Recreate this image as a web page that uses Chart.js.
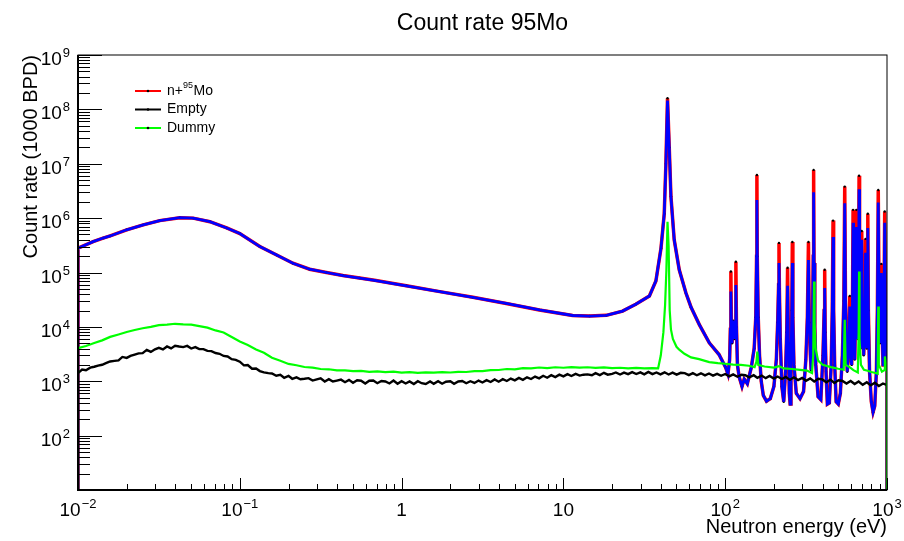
<!DOCTYPE html>
<html>
<head>
<meta charset="utf-8">
<script src="https://cdn.jsdelivr.net/npm/chart.js@4"></script>
<style>
  body { margin: 0; background: #fff; }
  #graph { display: block; }
</style>
</head>
<body>
<canvas id="graph" width="904" height="541"></canvas>
<script>
// n+95Mo sample and the blue curve share one energy grid (eV)
let mo_energy = [
  0.01, 0.01, 0.0124, 0.0143, 0.0158, 0.02, 0.0253, 0.032, 0.0426, 0.0515,
  0.0653, 0.083, 0.1, 0.133, 0.169, 0.213, 0.27, 0.343, 0.434, 0.55,
  0.68, 1.07, 1.72, 2.76, 4.43, 7.1, 11.4, 14.5, 18.4, 23.2,
  28, 34, 37.3, 40.1, 42, 43, 44, 45.1, 46.2, 48.4,
  52, 57.2, 61.5, 69.2, 79.7, 91.6, 100.6, 104, 106.5, 107.6,
  108.4, 109.3, 110.2, 112.2, 114, 115.5, 116.4, 117.4, 119, 122,
  127, 131, 137, 145, 151, 154.5, 156.3, 157, 157.8, 160,
  163, 167, 172, 180, 190, 200, 207, 211, 213.8, 215,
  216.2, 219, 224, 230, 236, 240, 243, 246, 249, 252,
  255, 258, 260, 262, 266, 275, 290, 305, 315, 322,
  327, 331, 336, 340, 346, 350, 352, 354, 358, 363,
  375, 390, 402, 409, 412, 415, 420, 428, 440, 452,
  459, 464, 468, 475, 485, 500, 515, 530, 541, 548,
  554, 568, 582, 589, 596, 605, 612, 617, 622, 632,
  641, 647, 652, 660, 667, 672, 677, 686, 693, 698,
  704, 718, 731, 737, 742, 750, 756, 761, 767, 780,
  800, 820, 840, 860, 872, 883, 893, 903, 912, 922,
  932, 945, 958, 968, 978, 990, 1000, 1000
];

let fit_rate = [
  1, 2.8e5, 3.7e5, 4.3e5, 4.7e5, 6.1e5, 7.5e5, 9.0e5, 1.02e6, 1.0e6,
  8.6e5, 6.6e5, 5.2e5, 3.0e5, 2.1e5, 1.48e5, 1.15e5, 1.0e5, 8.8e4, 7.9e4,
  7.2e4, 5.7e4, 4.45e4, 3.5e4, 2.7e4, 2.05e4, 1.62e4, 1.58e4, 1.63e4, 1.95e4,
  2.6e4, 3.7e4, 7.0e4, 2.8e5, 1.2e6, 1.0e7, 1.45e8, 2.0e7, 2.5e6, 4.0e5,
  1.12e5, 4.2e4, 2.3e4, 1.1e4, 5100, 3100, 1800, 1350, 2500, 9000,
  44600, 9000, 5000, 13000, 6000, 12000, 59000, 10000, 2000, 1200,
  800, 1100, 900, 1800, 4000, 15000, 2.0e5, 2.16e6, 2.0e5, 15000,
  3000, 1000, 550, 430, 480, 800, 2500, 12000, 60000, 1.5e5,
  50000, 6000, 800, 420, 1500, 8000, 57000, 5000, 600, 380,
  2000, 20000, 1.5e5, 15000, 2000, 600, 480, 650, 2500, 15000,
  1.7e5, 12000, 3000, 1600, 8000, 2.0e5, 3.0e6, 1.5e5, 10000, 2000,
  520, 460, 3000, 20000, 52000, 8000, 1500, 380, 400, 2000,
  20000, 4.5e5, 20000, 2000, 420, 380, 600, 3000, 30000, 1.88e6,
  30000, 1500, 5000, 23600, 3000, 2000, 30000, 8.2e5, 20000, 2500,
  25000, 6.9e5, 20000, 6000, 60000, 3.4e6, 50000, 4000, 30000, 4.0e5,
  15000, 3000, 25000, 2.3e5, 15000, 4000, 40000, 6.6e5, 20000, 1500,
  420, 270, 350, 1500, 20000, 1.93e6, 30000, 5000, 15000, 98000,
  8000, 2000, 30000, 8.2e5, 30000, 6000, 3000, 1
];

let mo_rate = [
  1, 2.8e5, 3.7e5, 4.3e5, 4.7e5, 6.1e5, 7.5e5, 9.0e5, 1.02e6, 1.0e6,
  8.6e5, 6.6e5, 5.2e5, 3.0e5, 2.1e5, 1.48e5, 1.15e5, 1.0e5, 8.8e4, 7.9e4,
  7.2e4, 5.7e4, 4.45e4, 3.5e4, 2.7e4, 2.05e4, 1.62e4, 1.58e4, 1.63e4, 1.95e4,
  2.6e4, 3.7e4, 7.0e4, 2.8e5, 1.2e6, 1.0e7, 1.6e8, 2.0e7, 2.5e6, 4.0e5,
  1.12e5, 4.2e4, 2.3e4, 1.1e4, 5100, 3100, 1800, 1350, 2500, 9000,
  1.04e5, 9000, 5000, 13000, 6000, 12000, 1.58e5, 10000, 2000, 1200,
  800, 1100, 900, 1800, 4000, 15000, 2.0e5, 6.2e6, 2.0e5, 15000,
  3000, 1000, 550, 430, 480, 800, 2500, 12000, 60000, 3.5e5,
  50000, 6000, 800, 420, 1500, 8000, 1.22e5, 5000, 600, 380,
  2000, 20000, 3.65e5, 15000, 2000, 600, 480, 650, 2500, 15000,
  3.65e5, 12000, 3000, 1600, 8000, 2.0e5, 7.7e6, 1.5e5, 10000, 2000,
  520, 460, 3000, 20000, 1.12e5, 8000, 1500, 380, 400, 2000,
  20000, 9.0e5, 20000, 2000, 420, 380, 600, 3000, 30000, 3.8e6,
  30000, 1500, 5000, 3.7e4, 3000, 2000, 30000, 1.42e6, 20000, 2500,
  25000, 1.42e6, 20000, 6000, 60000, 6.0e6, 50000, 4000, 30000, 5.8e5,
  15000, 3000, 25000, 4.15e5, 15000, 4000, 40000, 1.2e6, 20000, 1500,
  420, 270, 350, 1500, 20000, 3.3e6, 30000, 5000, 15000, 1.44e5,
  8000, 2000, 30000, 1.32e6, 30000, 6000, 3000, 1
];

// Empty: 40 bins per decade
let empty_energy = [
  0.01,
  0.01, 0.0106, 0.0112, 0.0119, 0.0126, 0.0133, 0.0141, 0.015, 0.0158, 0.0168, 0.0178, 0.0188, 0.02, 0.0211, 0.0224, 0.0237, 0.0251, 0.0266, 0.0282, 0.0299,
  0.0316, 0.0335, 0.0355, 0.0376, 0.0398, 0.0422, 0.0447, 0.0473, 0.0501, 0.0531, 0.0562, 0.0596, 0.0631, 0.0668, 0.0708, 0.075, 0.0794, 0.0841, 0.0891, 0.0944,
  0.1, 0.106, 0.112, 0.119, 0.126, 0.133, 0.141, 0.15, 0.158, 0.168, 0.178, 0.188, 0.2, 0.211, 0.224, 0.237, 0.251, 0.266, 0.282, 0.299,
  0.316, 0.335, 0.355, 0.376, 0.398, 0.422, 0.447, 0.473, 0.501, 0.531, 0.562, 0.596, 0.631, 0.668, 0.708, 0.75, 0.794, 0.841, 0.891, 0.944,
  1, 1.06, 1.12, 1.19, 1.26, 1.33, 1.41, 1.5, 1.58, 1.68, 1.78, 1.88, 2, 2.11, 2.24, 2.37, 2.51, 2.66, 2.82, 2.99,
  3.16, 3.35, 3.55, 3.76, 3.98, 4.22, 4.47, 4.73, 5.01, 5.31, 5.62, 5.96, 6.31, 6.68, 7.08, 7.5, 7.94, 8.41, 8.91, 9.44,
  10, 10.6, 11.2, 11.9, 12.6, 13.3, 14.1, 15, 15.8, 16.8, 17.8, 18.8, 20, 21.1, 22.4, 23.7, 25.1, 26.6, 28.2, 29.9,
  31.6, 33.5, 35.5, 37.6, 39.8, 42.2, 44.7, 47.3, 50.1, 53.1, 56.2, 59.6, 63.1, 66.8, 70.8, 75, 79.4, 84.1, 89.1, 94.4,
  100, 106, 112, 119, 126, 133, 141, 150, 158, 168, 178, 188, 200, 211, 224, 237, 251, 266, 282, 299,
  316, 335, 355, 376, 398, 422, 447, 473, 501, 531, 562, 596, 631, 668, 708, 750, 794, 841, 891, 944,
  1000, 1000
];
let empty_rate = [
  1,
  1420, 1640, 1590, 1780, 1850, 1940, 2010, 2170, 2310, 2370, 2420, 2800, 2690, 2930, 3100, 3260, 3290, 3770, 3460, 3870,
  4120, 3850, 4370, 4020, 4480, 4350, 4250, 4470, 4000, 4250, 3900, 3900, 3620, 3580, 3300, 3200, 2920, 2860, 2550, 2480,
  2290, 1960, 1990, 1700, 1720, 1540, 1460, 1410, 1390, 1260, 1310, 1160, 1260, 1110, 1180, 1090, 1110, 1140, 1030, 1080,
  1130, 990, 1090, 990, 1030, 1070, 960, 1060, 940, 1040, 1020, 910, 1020, 1030, 920, 1010, 990, 910, 1030, 900,
  1000, 910, 990, 890, 1000, 920, 890, 990, 900, 1000, 900, 980, 1000, 900, 990, 1010, 920, 1000, 930, 1030,
  950, 1050, 970, 1080, 980, 1090, 1010, 1120, 1040, 1150, 1060, 1180, 1100, 1220, 1130, 1260, 1160, 1290, 1190, 1320,
  1230, 1350, 1250, 1370, 1270, 1320, 1340, 1290, 1410, 1300, 1430, 1320, 1370, 1450, 1330, 1440, 1350, 1470, 1360, 1460,
  1340, 1480, 1350, 1450, 1340, 1460, 1330, 1440, 1320, 1430, 1410, 1300, 1410, 1290, 1400, 1280, 1390, 1270, 1370, 1260,
  1360, 1230, 1340, 1210, 1320, 1290, 1180, 1290, 1160, 1270, 1140, 1250, 1120, 1220, 1100, 1200, 1060, 1180, 1050, 1150,
  1020, 1130, 990, 1110, 1080, 960, 1070, 930, 1040, 1010, 910, 1010, 890, 990, 860, 960, 840, 940, 820, 910,
  850, 1
];

// Dummy
let dummy_energy = [
  0.01, 0.01, 0.0112, 0.0126, 0.0141, 0.0158, 0.0178, 0.02, 0.0224, 0.0251, 0.0282, 0.0316, 0.0355, 0.0398, 0.0447, 0.0501, 0.0562, 0.0631, 0.0708, 0.0794, 0.0891,
  0.1, 0.112, 0.126, 0.141, 0.158, 0.178, 0.2, 0.224, 0.251, 0.282, 0.316, 0.355, 0.398, 0.447, 0.501, 0.562, 0.631, 0.708, 0.794, 0.891,
  1, 1.12, 1.26, 1.41, 1.58, 1.78, 2, 2.24, 2.51, 2.82, 3.16, 3.55, 3.98, 4.47, 5.01, 5.62, 6.31, 7.08, 7.94, 8.91,
  10, 11.2, 12.6, 14.1, 15.8, 17.8, 20, 22.4, 25.1, 28.2, 31.6, 35.5,
  38.5, 40, 41.5, 42.5, 43.3, 44, 44.7, 45.4, 46.2, 47.5, 50, 52, 56, 61.5, 69, 79.7, 90,
  100, 112, 125, 140, 152, 156, 158, 160, 175, 200, 215, 230, 260, 290, 320, 344, 350, 354, 357, 362,
  375, 400, 450, 500, 540, 548, 555, 590, 620, 660, 668, 672, 676, 690, 720, 760, 800, 850, 876, 883,
  890, 930, 965, 970, 990, 1000, 1000
];
let dummy_rate = [
  1, 4060, 4450, 5050, 5650, 6550, 7250, 8050, 8750, 9450, 10000, 10800, 11000, 11400, 11100, 11000, 10300, 9700, 8600, 7900, 6500,
  5400, 4650, 3850, 3350, 2700, 2380, 2080, 1970, 1830, 1780, 1680, 1660, 1580, 1590, 1530, 1550, 1490, 1520, 1470, 1500,
  1440, 1470, 1430, 1460, 1440, 1470, 1450, 1490, 1480, 1540, 1530, 1600, 1610, 1680, 1660, 1740, 1720, 1790, 1750, 1810,
  1770, 1820, 1780, 1810, 1760, 1800, 1740, 1770, 1730, 1760, 1720, 1740,
  1730, 3000, 8000, 25000, 1.1e5, 8.6e5, 3.0e5, 20000, 9000, 6000, 4300, 3800, 3200, 2750, 2550, 2250, 2150,
  2100, 2020, 2000, 1930, 1820, 2300, 3500, 2000, 1870, 1780, 1900, 1720, 1680, 1620, 1570, 1420, 3000, 68000, 12000, 4000,
  2400, 2000, 1820, 1700, 1630, 13500, 2000, 1800, 1600, 1450, 8000, 1.04e5, 6000, 2000, 1620, 1560, 1480, 1420, 1380, 23600,
  2000, 1500, 1600, 2850, 2000, 2000, 1
];

let legend_labels = ["n+95Mo", "Empty", "Dummy"];
let x_tick_values = [0.01, 0.1, 1, 10, 100, 1000];
let x_tick_labels = [["10", "\u22122"], ["10", "\u22121"], ["1", ""], ["10", ""], ["10", "2"], ["10", "3"]];
let y_tick_values = [1e2, 1e3, 1e4, 1e5, 1e6, 1e7, 1e8, 1e9];
let y_tick_labels = [["10", "2"], ["10", "3"], ["10", "4"], ["10", "5"], ["10", "6"], ["10", "7"], ["10", "8"], ["10", "9"]];

const FONT = '"Liberation Sans", Arial, Helvetica, sans-serif';

const toPoints = (xs, ys) => xs.map((x, i) => ({ x: x, y: ys[i] }));

const drawPower = (ctx, base, exp, x, y, align) => {
  ctx.font = "19px " + FONT;
  const wb = ctx.measureText(base).width;
  ctx.font = "13px " + FONT;
  const we = exp ? ctx.measureText(exp).width + 1 : 0;
  const total = wb + we;
  const x0 = align === "right" ? x - total : x - total / 2;
  ctx.textAlign = "left";
  ctx.textBaseline = "alphabetic";
  ctx.font = "19px " + FONT;
  ctx.fillText(base, x0, y);
  if (exp) {
    ctx.font = "13px " + FONT;
    ctx.fillText(exp, x0 + wb + 1, y - 8);
  }
};

// ROOT-like frame, inward ticks, labels, titles and legend
const rootFrame = {
  id: "rootFrame",
  afterDraw(chart) {
    const { ctx, chartArea: a } = chart;
    const xs = chart.scales.x;
    const ys = chart.scales.y;
    ctx.save();
    ctx.strokeStyle = "#000";
    ctx.fillStyle = "#000";

    ctx.lineWidth = 1;
    ctx.strokeRect(a.left, a.top, a.right - a.left, a.bottom - a.top);
    ctx.lineWidth = 2;
    ctx.beginPath();
    ctx.moveTo(a.left, a.top);
    ctx.lineTo(a.left, a.bottom);
    ctx.lineTo(a.right, a.bottom);
    ctx.stroke();

    // y ticks
    ctx.lineWidth = 1;
    ctx.beginPath();
    for (let e = 1; e <= 9; e++) {
      for (let k = 1; k <= 9; k++) {
        const v = k * Math.pow(10, e);
        if (v > 1e9 || (e === 1 && k === 1)) continue;
        const py = Math.round(ys.getPixelForValue(v)) + 0.5;
        const len = k === 1 ? 24 : 12;
        ctx.moveTo(a.left, py);
        ctx.lineTo(a.left + len, py);
      }
    }
    // x ticks
    for (let e = -2; e <= 3; e++) {
      for (let k = 1; k <= 9; k++) {
        const v = k * Math.pow(10, e);
        if (v > 1000) continue;
        const px = Math.round(xs.getPixelForValue(v)) + 0.5;
        const len = k === 1 ? 12 : 6;
        ctx.moveTo(px, a.bottom);
        ctx.lineTo(px, a.bottom - len);
      }
    }
    ctx.stroke();

    // tick labels
    y_tick_values.forEach((v, i) => {
      const py = ys.getPixelForValue(v);
      drawPower(ctx, y_tick_labels[i][0], y_tick_labels[i][1], 70, py + 10, "right");
    });
    x_tick_values.forEach((v, i) => {
      const px = xs.getPixelForValue(v);
      drawPower(ctx, x_tick_labels[i][0], x_tick_labels[i][1], px, 516, "center");
    });

    // titles
    ctx.font = "23px " + FONT;
    ctx.textAlign = "center";
    ctx.fillText("Count rate 95Mo", (a.left + a.right) / 2, 30);

    ctx.font = "20px " + FONT;
    ctx.textAlign = "right";
    ctx.fillText("Neutron energy (eV)", a.right, 533);

    ctx.save();
    ctx.translate(37, a.top);
    ctx.rotate(-Math.PI / 2);
    ctx.textAlign = "right";
    ctx.fillText("Count rate (1000 BPD)", 0, 0);
    ctx.restore();

    // legend
    const entries = chart.data.datasets.filter((d) => legend_labels.includes(d.label));
    entries.sort((p, q) => legend_labels.indexOf(p.label) - legend_labels.indexOf(q.label));
    entries.forEach((d, i) => {
      const ly = 91 + i * 18.5;
      ctx.strokeStyle = d.borderColor;
      ctx.lineWidth = 2;
      ctx.beginPath();
      ctx.moveTo(135, ly);
      ctx.lineTo(161, ly);
      ctx.stroke();
      ctx.fillStyle = "#000";
      ctx.beginPath();
      ctx.arc(148, ly, 1.3, 0, Math.PI * 2);
      ctx.fill();
      ctx.textAlign = "left";
      ctx.textBaseline = "middle";
      let tx = 167;
      if (d.label === "n+95Mo") {
        ctx.font = "14px " + FONT;
        ctx.fillText("n+", tx, ly);
        tx += ctx.measureText("n+").width;
        ctx.font = "9px " + FONT;
        ctx.fillText("95", tx, ly - 5);
        tx += ctx.measureText("95").width + 0.5;
        ctx.font = "14px " + FONT;
        ctx.fillText("Mo", tx, ly);
      } else {
        ctx.font = "14px " + FONT;
        ctx.fillText(d.label, tx, ly);
      }
    });
    ctx.restore();
  },
};

const chart_element = document.getElementById("graph").getContext("2d");

const chartInit = () => {
  return new Chart(chart_element, {
    type: "line",
    data: {
      datasets: [
        {
          label: "n+95Mo",
          data: toPoints(mo_energy, mo_rate),
          borderColor: "rgb(255, 0, 0)",
          backgroundColor: "rgb(255, 0, 0)",
          borderWidth: 3.5,
          pointRadius: 1.2,
          pointBorderWidth: 0,
          pointBackgroundColor: "#000",
          order: 4,
        },
        {
          label: "fit",
          data: toPoints(mo_energy, fit_rate),
          borderColor: "rgb(0, 0, 255)",
          backgroundColor: "rgb(0, 0, 255)",
          borderWidth: 2.8,
          order: 3,
        },
        {
          label: "Empty",
          data: toPoints(empty_energy, empty_rate),
          borderColor: "rgb(0, 0, 0)",
          backgroundColor: "rgb(0, 0, 0)",
          borderWidth: 2.4,
          order: 2,
        },
        {
          label: "Dummy",
          data: toPoints(dummy_energy, dummy_rate),
          borderColor: "rgb(0, 255, 0)",
          backgroundColor: "rgb(0, 255, 0)",
          borderWidth: 2.2,
          order: 1,
        },
      ],
    },
    options: {
      responsive: false,
      animation: false,
      devicePixelRatio: 1,
      layout: { padding: { left: 78, right: 17, top: 55, bottom: 51 } },
      elements: {
        point: { radius: 0 },
        line: { tension: 0, fill: false },
      },
      plugins: {
        legend: { display: false },
        tooltip: { enabled: false },
      },
      scales: {
        x: { type: "logarithmic", min: 0.01, max: 1000, display: false },
        y: { type: "logarithmic", min: 10, max: 1e9, display: false },
      },
    },
    plugins: [rootFrame],
  });
};

let countRateChart = chartInit();
</script>
</body>
</html>
